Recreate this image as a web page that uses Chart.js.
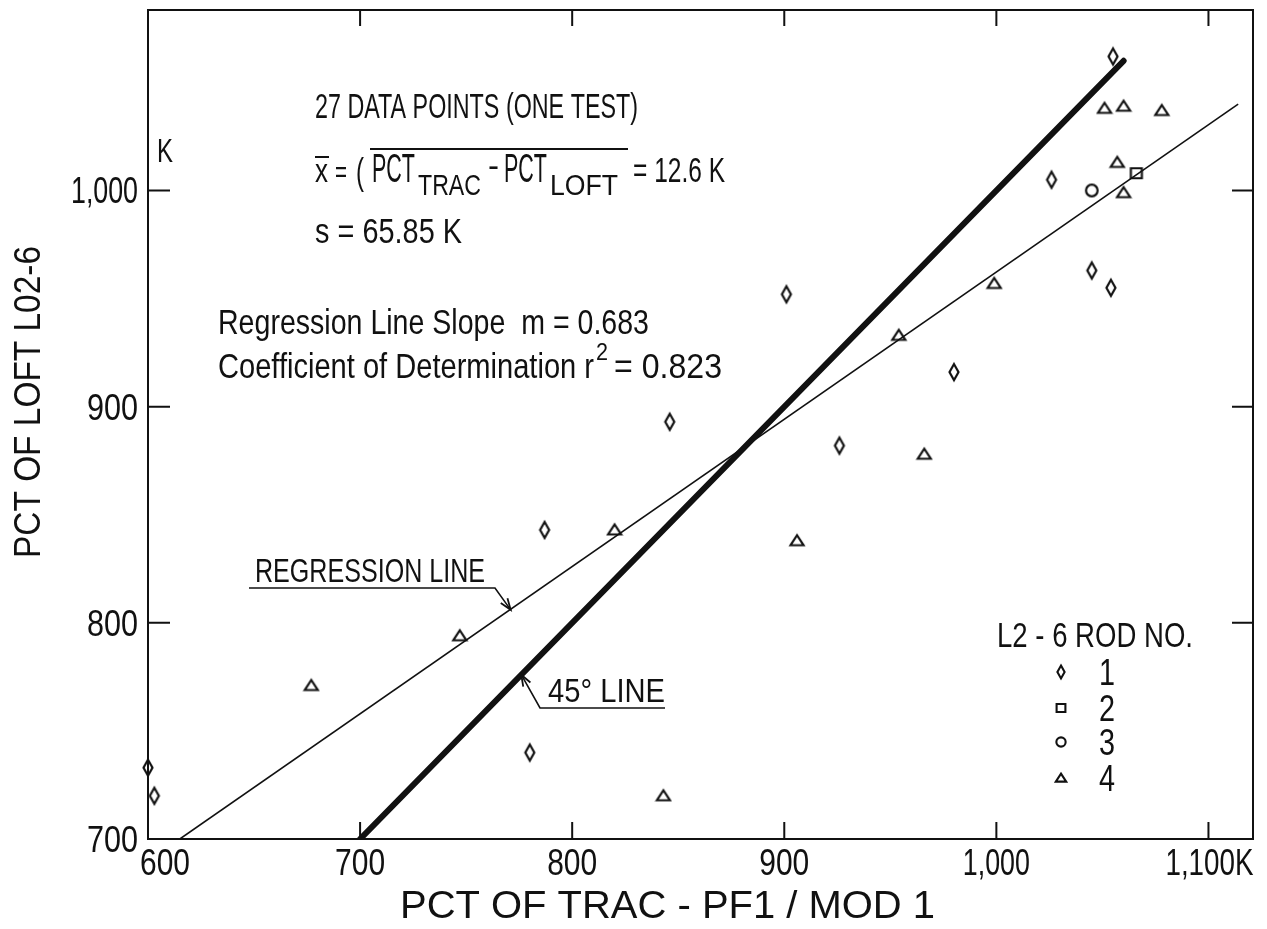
<!DOCTYPE html>
<html>
<head>
<meta charset="utf-8">
<script src="https://cdn.jsdelivr.net/npm/chart.js@4.4.1/dist/chart.umd.min.js"></script>
<style>
  html, body { margin: 0; padding: 0; background: #fff; }
  canvas { display: block; }
</style>
</head>
<body>
<canvas id="chart" width="1267" height="929"></canvas>
<script>
// L2-6 rod no. 1 (diamonds)
const rod1X = [1055, 1026, 1045, 1054, 901, 980, 926, 846, 787, 780, 600, 603];
const rod1Y = [1062, 1005, 963, 955, 952, 916, 882, 893, 843, 740, 733, 720];
// rod no. 2 (square)
const rod2X = [1066];
const rod2Y = [1008];
// rod no. 3 (circle)
const rod3X = [1045];
const rod3Y = [1000];
// rod no. 4 (triangles)
const rod4X = [1051, 1060, 1078, 1057, 1060, 999, 954, 966, 906, 820, 747, 677, 843];
const rod4Y = [1038, 1039, 1037, 1013, 999, 957, 933, 878, 838, 843, 794, 771, 720];

// reference lines (end points)
const line45X = [700, 1060];
const line45Y = [700, 1060];
const regX = [615, 1114];
const regY = [700, 1040];

const xTicks = [600, 700, 800, 900, 1000, 1100];
const xTickLabels = ['600', '700', '800', '900', '1,000', '1,100K'];
const yTicks = [700, 800, 900, 1000];
const yTickLabels = ['700', '800', '900', '1,000'];

const legendNames = ['1', '2', '3', '4'];

const FONT = '"Liberation Sans", Arial, sans-serif';
const INK = '#111';

function pts(xs, ys) { return xs.map((x, i) => ({ x: x, y: ys[i] })); }

// small hand-drawn marker images
function marker(kind, s) {
  const c = document.createElement('canvas');
  const w = Math.round(18 * s), h = Math.round(22 * s);
  c.width = w; c.height = h;
  const g = c.getContext('2d');
  g.strokeStyle = INK;
  g.lineWidth = 2.2 * Math.min(1, s + 0.15);
  g.beginPath();
  const cx = w / 2, cy = h / 2;
  if (kind === 'diamond') {
    g.moveTo(cx, cy - 8 * s); g.lineTo(cx + 4.5 * s, cy); g.lineTo(cx, cy + 8 * s); g.lineTo(cx - 4.5 * s, cy); g.closePath();
  } else if (kind === 'square') {
    g.rect(cx - 5.5 * s, cy - 5 * s, 11 * s, 10 * s);
  } else if (kind === 'circle') {
    g.arc(cx, cy, 5.8 * s, 0, Math.PI * 2);
  } else {
    g.moveTo(cx, cy - 5.5 * s); g.lineTo(cx + 6.5 * s, cy + 4.5 * s); g.lineTo(cx - 6.5 * s, cy + 4.5 * s); g.closePath();
  }
  g.stroke();
  return c;
}

const mk = {
  diamond: marker('diamond', 1), square: marker('square', 1),
  circle: marker('circle', 1), triangle: marker('triangle', 1)
};
const mkSmall = [marker('diamond', 0.8), marker('square', 0.8), marker('circle', 0.8), marker('triangle', 0.8)];

// text drawn slightly condensed, squeezed to a given width when asked
function txt(ctx, s, x, y, size, opt) {
  opt = opt || {};
  ctx.save();
  ctx.font = size + 'px ' + FONT;
  ctx.fillStyle = INK;
  ctx.textBaseline = 'alphabetic';
  const w = ctx.measureText(s).width;
  const sx = opt.width ? opt.width / w : (opt.sx || 0.78);
  const ww = w * sx;
  let left = x;
  if (opt.align === 'center') left = x - ww / 2;
  if (opt.align === 'right') left = x - ww;
  ctx.translate(left, y);
  ctx.scale(sx, 1);
  ctx.fillText(s, 0, 0);
  ctx.restore();
  return left + ww;
}

function seg(ctx, pts, lw) {
  ctx.save();
  ctx.strokeStyle = INK;
  ctx.lineWidth = lw || 1.5;
  ctx.beginPath();
  ctx.moveTo(pts[0][0], pts[0][1]);
  for (let i = 1; i < pts.length; i++) ctx.lineTo(pts[i][0], pts[i][1]);
  ctx.stroke();
  ctx.restore();
}

function arrowHead(ctx, fx, fy, tx, ty) {
  const a = Math.atan2(ty - fy, tx - fx), L = 12, sp = 0.35;
  ctx.save();
  ctx.strokeStyle = INK;
  ctx.lineWidth = 1.8;
  ctx.beginPath();
  ctx.moveTo(tx - L * Math.cos(a - sp), ty - L * Math.sin(a - sp));
  ctx.lineTo(tx, ty);
  ctx.lineTo(tx - L * Math.cos(a + sp), ty - L * Math.sin(a + sp));
  ctx.stroke();
  ctx.restore();
}

const framePlugin = {
  id: 'frame',
  afterDraw(chart) {
    const ctx = chart.ctx;
    const a = chart.chartArea;
    const xs = chart.scales.x, ys = chart.scales.y;

    // box
    ctx.save();
    ctx.strokeStyle = INK;
    ctx.lineWidth = 2;
    ctx.strokeRect(a.left, a.top, a.right - a.left, a.bottom - a.top);

    // inward ticks on all four sides
    ctx.beginPath();
    xTicks.forEach(v => {
      const p = xs.getPixelForValue(v);
      if (v > 600) {
        ctx.moveTo(p, a.bottom); ctx.lineTo(p, a.bottom - 17);
        ctx.moveTo(p, a.top); ctx.lineTo(p, a.top + 16);
      }
    });
    yTicks.forEach(v => {
      const p = ys.getPixelForValue(v);
      if (v > 700) {
        ctx.moveTo(a.left, p); ctx.lineTo(a.left + 22, p);
        ctx.moveTo(a.right, p); ctx.lineTo(a.right - 21, p);
      }
    });
    ctx.stroke();
    ctx.restore();

    // tick labels
    xTicks.forEach((v, i) => {
      const p = xs.getPixelForValue(v);
      if (i === 0) txt(ctx, xTickLabels[i], p - 8, a.bottom + 36, 36, { width: 50 });
      else if (i === xTicks.length - 1) txt(ctx, xTickLabels[i], p - 43, a.bottom + 36, 36, { width: 88 });
      else txt(ctx, xTickLabels[i], p, a.bottom + 36, 36, { width: xTickLabels[i].length > 3 ? 67 : 50, align: 'center' });
    });
    yTicks.forEach((v, i) => {
      const p = ys.getPixelForValue(v);
      txt(ctx, yTickLabels[i], a.left - 10, p + 13, 36, { width: yTickLabels[i].length > 3 ? 67 : 51, align: 'right' });
    });

    // axis titles
    txt(ctx, 'PCT OF TRAC - PF1 / MOD 1', 400, 918, 38, { width: 535 });
    ctx.save();
    ctx.translate(40, 402);
    ctx.rotate(-Math.PI / 2);
    txt(ctx, 'PCT OF LOFT L02-6', 0, 0, 37, { width: 312, align: 'center' });
    ctx.restore();

    // unit mark on y axis
    txt(ctx, 'K', 157, 162, 34, { width: 16 });

    // statistics block
    txt(ctx, '27 DATA POINTS (ONE TEST)', 315, 118, 35, { width: 323 });
    txt(ctx, 'x', 315, 182, 34, { width: 13 });
    seg(ctx, [[315, 157], [329, 157]], 2);
    txt(ctx, '=', 335, 182, 30, { width: 12 });
    txt(ctx, '(', 356, 184, 36, { width: 8 });
    txt(ctx, 'PCT', 372, 182, 40, { width: 43 });
    txt(ctx, 'TRAC', 418, 195, 29, { width: 63 });
    txt(ctx, '-', 488, 177, 34, { width: 11 });
    txt(ctx, 'PCT', 504, 182, 40, { width: 43 });
    txt(ctx, 'LOFT', 550, 195, 29, { width: 68 });
    seg(ctx, [[370, 149], [628, 149]], 2);
    txt(ctx, '= 12.6 K', 633, 182, 35, { width: 92 });
    txt(ctx, 's = 65.85 K', 315, 243, 35, { width: 147 });

    txt(ctx, 'Regression Line Slope  m = 0.683', 218, 334, 35, { width: 431 });
    let e = txt(ctx, 'Coefficient of Determination r', 218, 378, 35, { width: 376 });
    txt(ctx, '2', e + 2, 360, 24, { width: 12 });
    txt(ctx, '= 0.823', e + 20, 378, 35, { width: 108 });

    // callouts
    txt(ctx, 'REGRESSION LINE', 255, 582, 34, { width: 230 });
    const rt = [xs.getPixelForValue(771), ys.getPixelForValue(806)];
    seg(ctx, [[249, 588], [495, 588], rt], 1.6);
    arrowHead(ctx, 495, 588, rt[0], rt[1]);

    txt(ctx, '45\u00B0 LINE', 548, 702, 34, { width: 117 });
    const lt = [xs.getPixelForValue(776), ys.getPixelForValue(776)];
    seg(ctx, [[665, 708], [540, 708], lt], 1.6);
    arrowHead(ctx, 540, 708, lt[0], lt[1]);

    // legend
    txt(ctx, 'L2 - 6 ROD NO.', 997, 647, 35, { width: 196 });
    const rows = [672, 708, 742, 778];
    rows.forEach((y, i) => {
      const m = mkSmall[i];
      ctx.drawImage(m, 1061 - m.width / 2, y - m.height / 2);
      txt(ctx, legendNames[i], 1107, y + 13, 36, { align: 'center', sx: 0.8 });
    });
  }
};

const ctx = document.getElementById('chart').getContext('2d');

new Chart(ctx, {
  type: 'scatter',
  data: {
    datasets: [
      { label: '1', data: pts(rod1X, rod1Y), pointStyle: mk.diamond, clip: false },
      { label: '2', data: pts(rod2X, rod2Y), pointStyle: mk.square, clip: false },
      { label: '3', data: pts(rod3X, rod3Y), pointStyle: mk.circle, clip: false },
      { label: '4', data: pts(rod4X, rod4Y), pointStyle: mk.triangle, clip: false },
      {
        label: '45 deg', data: pts(line45X, line45Y), showLine: true,
        borderColor: INK, borderWidth: 6, pointRadius: 0, borderCapStyle: 'round'
      },
      {
        label: 'regression', data: pts(regX, regY), showLine: true,
        borderColor: INK, borderWidth: 1.6, pointRadius: 0
      }
    ]
  },
  options: {
    responsive: false,
    animation: false,
    devicePixelRatio: 1,
    layout: { padding: { left: 148, right: 14, top: 10, bottom: 90 } },
    plugins: { legend: { display: false }, tooltip: { enabled: false } },
    scales: {
      x: { type: 'linear', min: 600, max: 1121, display: false },
      y: { type: 'linear', min: 700, max: 1083.5, display: false }
    }
  },
  plugins: [framePlugin]
});
</script>
</body>
</html>
